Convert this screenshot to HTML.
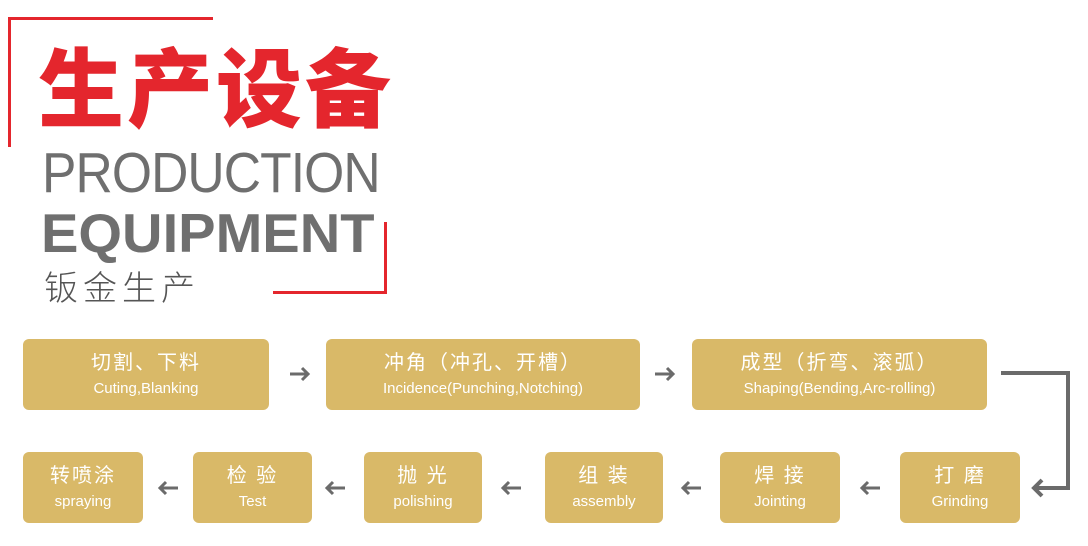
<!DOCTYPE html>
<html><head><meta charset="utf-8"><style>
body{margin:0;width:1088px;height:546px;background:#fff;position:relative;overflow:hidden;font-family:"Liberation Sans","Noto Sans CJK SC",sans-serif}
.a{position:absolute}
.b{position:absolute;background:#d9b968;border-radius:6px;color:#fff;text-align:center;box-sizing:border-box}
.b .c{font-size:20px;line-height:24px;margin-top:12px;letter-spacing:2px}
.b .e{font-size:15px;line-height:20px;margin-top:4px}
.r{background:#e4262d}
</style></head><body>
<div class="a r" style="left:8px;top:17px;width:205px;height:3px"></div>
<div class="a r" style="left:8px;top:17px;width:3px;height:130px"></div>
<div class="a r" style="left:384px;top:222px;width:3px;height:72px"></div>
<div class="a r" style="left:273px;top:291px;width:114px;height:3px"></div>
<div class="a" style="left:38px;top:33px;font-size:86px;line-height:100px;font-weight:900;color:#e4262d;font-family:'Noto Sans CJK SC',sans-serif;letter-spacing:3px">生产设备</div>
<div class="a" style="left:42px;top:141px;font-size:57px;line-height:64px;color:#6f6f6f;letter-spacing:-1px;transform:scaleX(0.905);transform-origin:left">PRODUCTION</div>
<div class="a" style="left:41px;top:202px;font-size:55px;line-height:62px;color:#6f6f6f;font-weight:bold;transform:scaleX(1.02);transform-origin:left">EQUIPMENT</div>
<div class="a" style="left:44px;top:265px;font-size:34px;line-height:42px;color:#555;letter-spacing:5px;font-family:'Noto Sans CJK SC',sans-serif;font-weight:300">钣金生产</div>

<div class="b" style="left:23px;top:339px;width:246px;height:71px"><div class="c">切割、下料</div><div class="e">Cuting,Blanking</div></div>
<div class="b" style="left:326px;top:339px;width:314px;height:71px"><div class="c">冲角（冲孔、开槽）</div><div class="e">Incidence(Punching,Notching)</div></div>
<div class="b" style="left:692px;top:339px;width:295px;height:71px"><div class="c">成型（折弯、滚弧）</div><div class="e">Shaping(Bending,Arc-rolling)</div></div>

<div class="b" style="left:23px;top:452px;width:120px;height:71px"><div class="c">转喷涂</div><div class="e">spraying</div></div>
<div class="b" style="left:193px;top:452px;width:119px;height:71px"><div class="c">检 验</div><div class="e">Test</div></div>
<div class="b" style="left:364px;top:452px;width:118px;height:71px"><div class="c">抛 光</div><div class="e">polishing</div></div>
<div class="b" style="left:545px;top:452px;width:118px;height:71px"><div class="c">组 装</div><div class="e">assembly</div></div>
<div class="b" style="left:720px;top:452px;width:120px;height:71px"><div class="c">焊 接</div><div class="e">Jointing</div></div>
<div class="b" style="left:900px;top:452px;width:120px;height:71px"><div class="c">打 磨</div><div class="e">Grinding</div></div>

<svg class="a" style="left:0;top:0" width="1088" height="546">
<g stroke="#6b6b6b" stroke-width="4" fill="none">
<polyline points="1001,373 1068,373 1068,488 1034,488"/>
<polyline points="1042,480 1034,488 1042,496"/>
</g>
<g stroke="#6b6b6b" stroke-width="3" fill="none">
<g><line x1="290" y1="374" x2="308" y2="374"/><polyline points="302,368 308,374 302,380"/></g>
<g><line x1="655" y1="374" x2="673" y2="374"/><polyline points="667,368 673,374 667,380"/></g>
<g><line x1="160" y1="488" x2="178" y2="488"/><polyline points="166,482 160,488 166,494"/></g>
<g><line x1="327" y1="488" x2="345" y2="488"/><polyline points="333,482 327,488 333,494"/></g>
<g><line x1="503" y1="488" x2="521" y2="488"/><polyline points="509,482 503,488 509,494"/></g>
<g><line x1="683" y1="488" x2="701" y2="488"/><polyline points="689,482 683,488 689,494"/></g>
<g><line x1="862" y1="488" x2="880" y2="488"/><polyline points="868,482 862,488 868,494"/></g>
</g>
</svg>
</body></html>
